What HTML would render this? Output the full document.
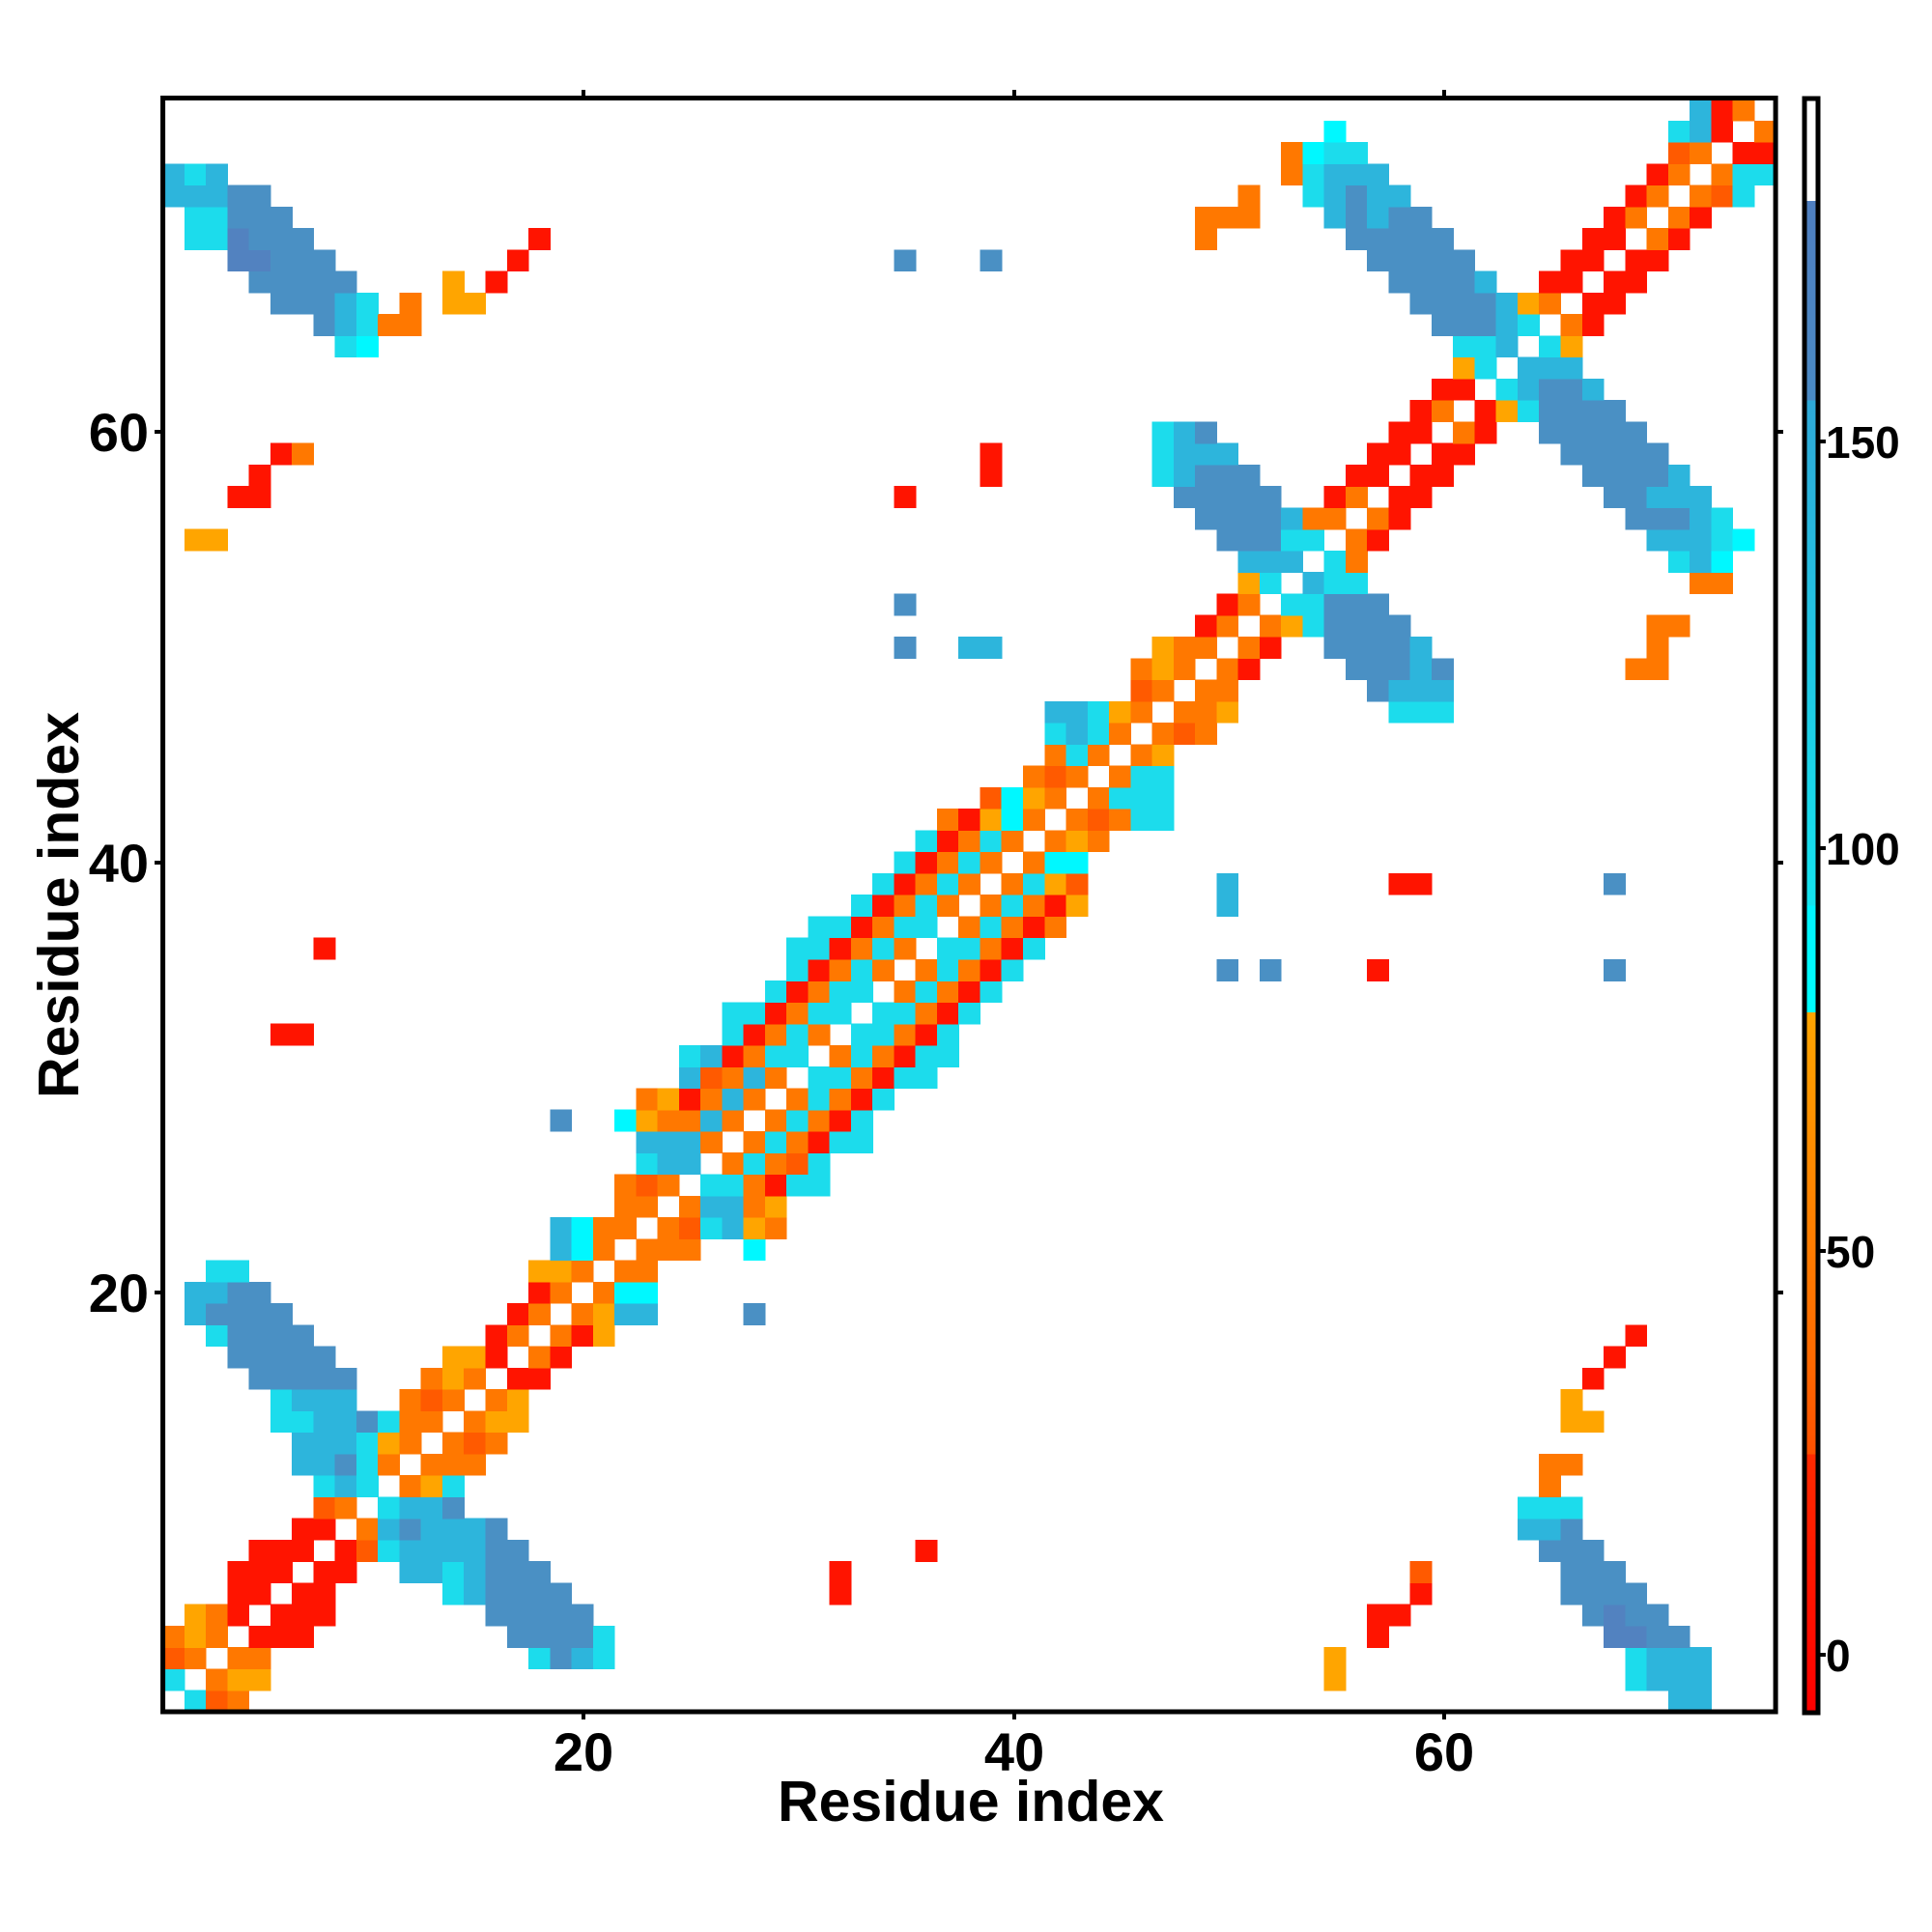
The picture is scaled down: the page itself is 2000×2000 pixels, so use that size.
<!DOCTYPE html>
<html><head><meta charset="utf-8"><style>
html,body{margin:0;padding:0;background:#fff;}
svg{display:block;}
text{font-family:"Liberation Sans",Arial,sans-serif;font-weight:bold;fill:#000;}
</style></head><body>
<svg id="s" width="2000" height="2000" viewBox="0 0 2000 2000" xmlns="http://www.w3.org/2000/svg">
<defs>
<linearGradient id="cb" x1="0" y1="0" x2="0" y2="1">
<stop offset="0" stop-color="#ffffff"/>
<stop offset="0.0635" stop-color="#ffffff"/>
<stop offset="0.0635" stop-color="#4f7fc0"/>
<stop offset="0.187" stop-color="#4a8ac4"/>
<stop offset="0.187" stop-color="#2ea9d8"/>
<stop offset="0.50" stop-color="#14e4ef"/>
<stop offset="0.50" stop-color="#00f4ff"/>
<stop offset="0.566" stop-color="#00ffff"/>
<stop offset="0.566" stop-color="#ffa500"/>
<stop offset="0.66" stop-color="#ff8a00"/>
<stop offset="0.78" stop-color="#ff6a00"/>
<stop offset="0.84" stop-color="#ff5000"/>
<stop offset="0.84" stop-color="#ff2a00"/>
<stop offset="1" stop-color="#ff0000"/>
</linearGradient>
</defs>
<g id="cells" shape-rendering="crispEdges"></g>
<rect x="168.6" y="101.5" width="1669.5" height="1670.5" fill="none" stroke="#000" stroke-width="5"/>
<g stroke="#000" stroke-width="4">
<line x1="604" y1="101.5" x2="604" y2="93"/><line x1="1050" y1="101.5" x2="1050" y2="93"/><line x1="1495" y1="101.5" x2="1495" y2="93"/>
<line x1="604" y1="1772" x2="604" y2="1780"/><line x1="1050" y1="1772" x2="1050" y2="1780"/><line x1="1495" y1="1772" x2="1495" y2="1780"/>
<line x1="168.6" y1="447" x2="160" y2="447"/><line x1="168.6" y1="893" x2="160" y2="893"/><line x1="168.6" y1="1338" x2="160" y2="1338"/>
<line x1="1838" y1="447" x2="1846" y2="447"/><line x1="1838" y1="893" x2="1846" y2="893"/><line x1="1838" y1="1338" x2="1846" y2="1338"/>
</g>
<text x="604" y="1833" font-size="56" text-anchor="middle">20</text>
<text x="1050" y="1833" font-size="56" text-anchor="middle">40</text>
<text x="1495" y="1833" font-size="56" text-anchor="middle">60</text>
<text x="154" y="467" font-size="56" text-anchor="end">60</text>
<text x="154" y="913" font-size="56" text-anchor="end">40</text>
<text x="154" y="1358" font-size="56" text-anchor="end">20</text>
<text x="1005" y="1885" font-size="59" text-anchor="middle">Residue index</text>
<text transform="translate(81,937) rotate(-90)" font-size="59" text-anchor="middle">Residue index</text>
<rect x="1868" y="102" width="14" height="1671" fill="url(#cb)" stroke="#000" stroke-width="5"/>
<g stroke="#000" stroke-width="4">
<line x1="1884" y1="457" x2="1890" y2="457"/><line x1="1884" y1="878" x2="1890" y2="878"/><line x1="1884" y1="1295" x2="1890" y2="1295"/><line x1="1884" y1="1713" x2="1890" y2="1713"/>
</g>
<text x="1890" y="474" font-size="46">150</text>
<text x="1890" y="895" font-size="46">100</text>
<text x="1890" y="1312" font-size="46">50</text>
<text x="1890" y="1730" font-size="46">0</text>
</svg>
<script>
var col={R:"#ff1400",r:"#ff0000",o:"#ff5a00",O:"#ff7800",A:"#ffa500",C:"#1cdcec",c:"#00f8ff",B:"#2db5dc",D:"#4a90c4",P:"#5282c0"};
var d=[
[1,2,"CoO"],[1,71,"BB"],
[2,1,"C.OAA"],[2,69,"CBBB"],[2,55,"A"],
[3,1,"oO.OO"],[3,18,"CDBC"],[3,69,"CBBB"],[3,55,"A"],
[4,1,"OAO.RRR"],[4,17,"DDDDC"],[4,57,"R"],[4,68,"PPDD"],
[5,1,".AOR.RRR"],[5,16,"DDDDD"],[5,57,"RR"],[5,67,"DPDD"],
[6,4,"RR.RR"],[6,14,"CBDDDD"],[6,32,"R"],[6,59,"R"],[6,66,"DDDD"],
[7,4,"RRR.RR"],[7,12,"BBCBDDD"],[7,32,"R"],[7,59,"o"],[7,66,"DDD"],
[8,5,"RRR.RoCBBBBDD"],[8,36,"R"],[8,65,"DDD"],
[9,7,"RR.OBDBBBD"],[9,64,"BBD"],
[10,8,"oO.CBBD"],[10,64,"CCC"],
[11,8,"CBC.OAC"],[11,65,"O"],
[12,7,"BBDCO.OOO"],[12,65,"OO"],
[13,7,"BBBCAO.OoO"],
[14,6,"CCBBDCOO.OAA"],[14,66,"AA"],
[15,6,"CBBB..OoO.OA"],[15,66,"A"],
[16,5,"DDDDD...OAO.RR"],[16,67,"R"],
[17,4,"DDDDD.....AAR.OR"],[17,68,"R"],
[18,3,"CDDDD........RO.ORA"],[18,69,"R"],
[19,2,"BDDDD"],[19,17,"RO.OABB"],[19,28,"D"],
[20,2,"BBDD"],[20,18,"RO.Occ"],
[21,3,"CC"],[21,18,"AAO.OO"],
[22,19,"BcO.OOO"],[22,28,"c"],
[23,19,"BcOO.OoCBAO"],
[24,22,"OO.OBBOA"],
[25,22,"OoO.CCORCC"],
[26,23,"CBB.OCOoC"],
[27,23,"BBBO.OCORCC"],
[28,19,"D..cAOOBO.OCORC"],
[29,23,"OAROBO.OCORC"],
[30,25,"BoOBO.CCORCC"],
[31,25,"CBROCC.OCORCC"],
[32,6,"RR"],[32,27,"CROCO.CCORC"],
[33,27,"CCROCC.CCORC"],
[34,29,"CROCC.OCORC"],
[35,30,"CROCO.OCORC"],[35,50,"D"],[35,52,"D"],[35,57,"R"],[35,68,"D"],
[36,8,"R"],[36,30,"CCROCO.CCORC"],
[37,31,"CCROCC.OCORO"],
[38,33,"CROCO.OCORA"],[38,50,"B"],
[39,34,"CROCO.OCAo"],[39,50,"B"],[39,58,"RR"],[39,68,"D"],
[40,35,"CROCO.Occ"],
[41,36,"CROCO.OAO"],
[42,37,"ORAcO.OoOCC"],
[43,39,"ocAO.OCCC"],
[44,41,"OoO.OCC"],
[45,42,"OCO.OA"],
[46,42,"CBCO.OoO"],
[47,42,"BBCAO.OOA"],[47,58,"CCC"],
[48,46,"oO.OO"],[48,57,"DBBB"],
[49,46,"OAO.OR"],[49,56,"DDDBD"],[49,69,"OO"],
[50,47,"AOO.OR"],[50,55,"DDDDB"],[50,70,"O"],[50,35,"D"],[50,38,"BB"],
[51,49,"RO.OACDDDD"],[51,70,"OO"],
[52,50,"RO.CCDDD"],[52,35,"D"],
[53,51,"AC.BCC"],[53,72,"OO"],
[54,51,"BBB.CO"],[54,71,"CBc"],
[55,50,"DDDCC.OR"],[55,70,"BBBCc"],[55,2,"AA"],
[56,49,"DDDDBOO.OR"],[56,69,"DDDBC"],
[57,48,"DDDDD..RO.RR"],[57,68,"DDBBB"],[57,4,"RR"],[57,35,"R"],
[58,47,"CBDDD....RR.RR"],[58,67,"DDDDB"],[58,5,"R"],[58,39,"R"],
[59,47,"CBBB......RR.RR"],[59,66,"DDDDD"],[59,6,"RO"],[59,39,"R"],
[60,47,"CBD........RR.OR"],[60,65,"DDDDD"],
[61,59,"RO.RACDDDD"],
[62,60,"RR.CBDDB"],
[63,61,"AC.BBB"],
[64,61,"CCB.CA"],[64,9,"Cc"],
[65,60,"DDDBC.OR"],[65,8,"DBCOO"],
[66,59,"DDDDBAO.RR"],[66,6,"DDDBC.O.AA"],
[67,58,"DDDDB..RR.RR"],[67,5,"DDDDD"],[67,14,"A"],[67,16,"R"],
[68,57,"DDDDD....RR.RR"],[68,4,"PPDDD"],[68,17,"R"],[68,35,"D"],[68,39,"D"],
[69,56,"DDDDD......RR.OR"],[69,49,"O"],[69,2,"CCPDDD"],[69,18,"R"],
[70,49,"OOO"],[70,55,"BDBDD"],[70,68,"RO.OR"],[70,2,"CCDDD"],
[71,51,"O"],[71,54,"CBDBB"],[71,69,"RO.OoC"],[71,1,"BBBDD"],
[72,53,"OCBBB"],[72,70,"RO.OCC"],[72,1,"BCB"],
[73,53,"OcCC"],[73,71,"oO.RR"],
[74,55,"c"],[74,71,"CBR.O"],
[75,72,"BRO."]
];
var g=document.getElementById("cells"),ns="http://www.w3.org/2000/svg",cw=22.26;
d.forEach(function(e){var y=e[0],x0=e[1],s=e[2];
for(var k=0;k<s.length;k++){var ch=s[k];if(ch==".")continue;var x=x0+k;
var r=document.createElementNS(ns,"rect");
r.setAttribute("x",(168.6+(x-1)*cw).toFixed(2));
r.setAttribute("y",(1772-y*cw).toFixed(2));
r.setAttribute("width",(cw+0.6).toFixed(2));
r.setAttribute("height",(cw+0.6).toFixed(2));
r.setAttribute("fill",col[ch]);g.appendChild(r);}});
</script>
</body></html>
